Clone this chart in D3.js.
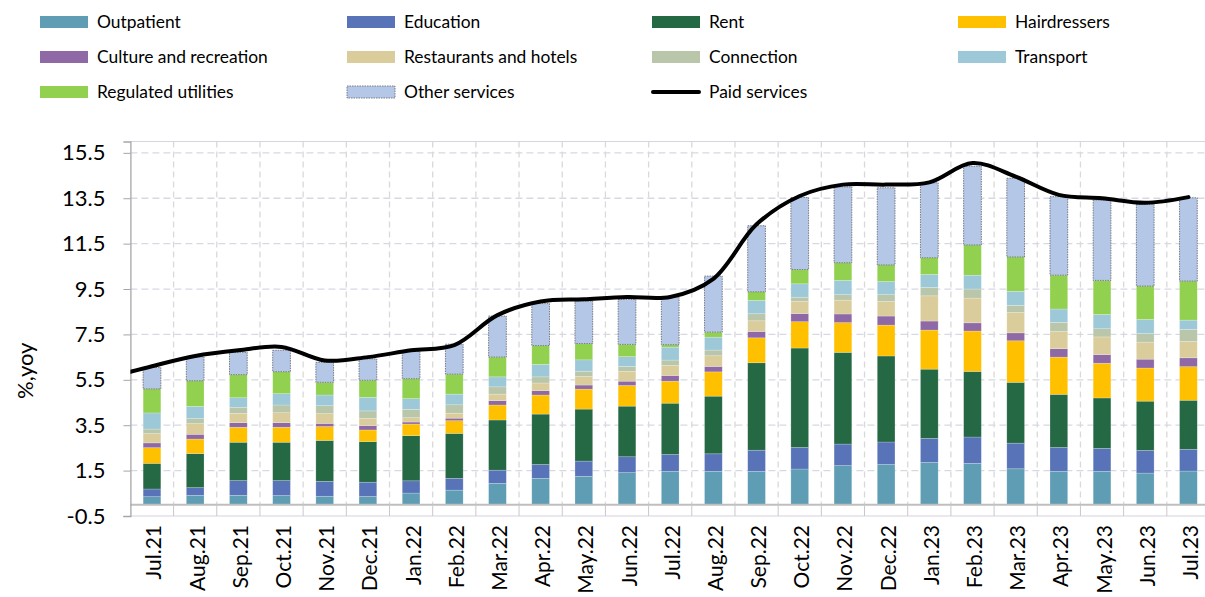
<!DOCTYPE html>
<html>
<head>
<meta charset="utf-8">
<script src="https://cdn.jsdelivr.net/npm/d3@7"></script>
<style>
  html, body { margin: 0; padding: 0; background: #fff; }
  svg { display: block; }
</style>
</head>
<body>
<div id="chart"></div>
<script>
/* ═══════════════════════════════════════════════
   Paid services inflation, contributions (D3.js)
   ═══════════════════════════════════════════════ */

const months = ['Jul.21', 'Aug.21', 'Sep.21', 'Oct.21', 'Nov.21', 'Dec.21', 'Jan.22', 'Feb.22', 'Mar.22',
  'Apr.22', 'May.22', 'Jun.22', 'Jul.22', 'Aug.22', 'Sep.22', 'Oct.22', 'Nov.22', 'Dec.22', 'Jan.23',
  'Feb.23', 'Mar.23', 'Apr.23', 'May.23', 'Jun.23', 'Jul.23'];

const outpatient   = [0.35, 0.41, 0.41, 0.40, 0.37, 0.36, 0.51, 0.64, 0.94, 1.16, 1.25, 1.41, 1.47, 1.47, 1.47, 1.57, 1.72, 1.77, 1.86, 1.82, 1.58, 1.47, 1.47, 1.39, 1.48];
const education    = [0.34, 0.34, 0.65, 0.66, 0.66, 0.63, 0.54, 0.52, 0.58, 0.61, 0.67, 0.70, 0.74, 0.77, 0.93, 0.95, 0.95, 0.99, 1.06, 1.16, 1.13, 1.05, 1.01, 1.00, 0.96];
const rent         = [1.13, 1.50, 1.69, 1.69, 1.80, 1.79, 1.99, 1.98, 2.21, 2.22, 2.29, 2.23, 2.26, 2.54, 3.85, 4.38, 4.04, 3.79, 3.05, 2.89, 2.68, 2.34, 2.22, 2.17, 2.16];
const hairdressers = [0.69, 0.64, 0.66, 0.66, 0.61, 0.51, 0.51, 0.56, 0.66, 0.84, 0.88, 0.91, 0.97, 1.07, 1.10, 1.16, 1.31, 1.36, 1.72, 1.78, 1.83, 1.64, 1.53, 1.46, 1.48];
const culture      = [0.21, 0.21, 0.20, 0.20, 0.14, 0.19, 0.09, 0.11, 0.19, 0.19, 0.18, 0.19, 0.25, 0.24, 0.28, 0.36, 0.38, 0.40, 0.40, 0.36, 0.35, 0.37, 0.38, 0.39, 0.39];
const restaurants  = [0.41, 0.47, 0.41, 0.44, 0.43, 0.32, 0.19, 0.22, 0.29, 0.34, 0.38, 0.43, 0.44, 0.47, 0.47, 0.53, 0.61, 0.64, 1.11, 1.09, 0.90, 0.76, 0.78, 0.75, 0.72];
const connection   = [0.20, 0.22, 0.27, 0.34, 0.35, 0.33, 0.37, 0.37, 0.32, 0.27, 0.23, 0.22, 0.24, 0.25, 0.31, 0.19, 0.24, 0.30, 0.37, 0.40, 0.31, 0.40, 0.36, 0.38, 0.53];
const transport    = [0.71, 0.54, 0.42, 0.50, 0.47, 0.60, 0.47, 0.47, 0.44, 0.55, 0.50, 0.43, 0.57, 0.57, 0.59, 0.59, 0.63, 0.58, 0.57, 0.61, 0.62, 0.59, 0.63, 0.62, 0.41];
const regulated    = [1.06, 1.13, 1.02, 0.97, 0.56, 0.75, 0.88, 0.88, 0.87, 0.83, 0.72, 0.54, 0.11, 0.22, 0.38, 0.63, 0.78, 0.73, 0.74, 1.33, 1.51, 1.49, 1.50, 1.47, 1.72];
const other        = [0.94, 1.05, 0.98, 0.94, 0.88, 0.94, 1.20, 1.32, 1.81, 1.85, 1.87, 1.98, 2.09, 2.47, 2.91, 3.17, 3.34, 3.40, 3.30, 3.47, 3.47, 3.46, 3.54, 3.60, 3.67];

// line starts one month earlier; Excel clips it at the plot edge
const lineMonths = ['Jun.21', ...months];
const paid = [5.6, 6.1, 6.55, 6.8, 6.95, 6.35, 6.5, 6.8, 7.03, 8.35, 8.95, 9.05, 9.15, 9.15, 9.95, 12.35,
  13.6, 14.1, 14.1, 14.2, 15.05, 14.45, 13.65, 13.5, 13.3, 13.55];

const yTicks = [-0.5, 1.5, 3.5, 5.5, 7.5, 9.5, 11.5, 13.5, 15.5];

const seriesNames = ['Outpatient', 'Education', 'Rent', 'Hairdressers', 'Culture and recreation',
  'Restaurants and hotels', 'Connection', 'Transport', 'Regulated utilities', 'Other services'];
const seriesValues = [outpatient, education, rent, hairdressers, culture, restaurants, connection,
  transport, regulated, other];
const seriesColors = ['#5E9DB3', '#5873B8', '#256844', '#FFC000', '#8E69A6', '#DBCD9B', '#B9C6AA',
  '#9DC8D8', '#92D050', '#B4C7E7'];
const lineName = 'Paid services';

const cfg = {
  w: 1205,
  h: 597,
  left: 130.4,
  right: 1210,
  top: 141.5,
  bottom: 516,
  font: "Lato, 'Open Sans', sans-serif",
  gridColor: '#D6D9E3',
  vGridColor: '#D9D9D9',
};

const svg = d3.select('#chart')
  .append('svg')
  .attr('width', cfg.w)
  .attr('height', cfg.h)
  .style('font-family', cfg.font);

// ─── Scales ───
const x = d3.scaleBand()
  .domain(months)
  .range([cfg.left, cfg.right])
  .paddingInner(0.59)
  .paddingOuter(0.295);

const step = x.step();
const xLine = d3.scalePoint()
  .domain(lineMonths)
  .range([x(months[0]) + x.bandwidth() / 2 - step, x(months[months.length - 1]) + x.bandwidth() / 2]);

const y = d3.scaleLinear()
  .domain([-0.5, 16])
  .range([cfg.bottom, cfg.top]);

// ─── Plot frame ───
svg.append('line')
  .attr('x1', cfg.left).attr('x2', cfg.right)
  .attr('y1', cfg.top).attr('y2', cfg.top)
  .attr('stroke', '#D9D3E3').attr('stroke-width', 1.2);

// ─── Grid ───
svg.append('g')
  .selectAll('line')
  .data(yTicks.filter(t => t > -0.5))
  .join('line')
  .attr('x1', cfg.left).attr('x2', cfg.right)
  .attr('y1', d => y(d)).attr('y2', d => y(d))
  .attr('stroke', cfg.gridColor)
  .attr('stroke-width', 1.3)
  .attr('stroke-dasharray', '7,4');

const boundaries = months.map((m, i) => cfg.left + i * step).slice(1);
svg.append('g')
  .selectAll('line')
  .data(boundaries)
  .join('line')
  .attr('x1', d => d).attr('x2', d => d)
  .attr('y1', cfg.top).attr('y2', y(0))
  .attr('stroke', cfg.vGridColor)
  .attr('stroke-width', 1.3)
  .attr('stroke-dasharray', '6,4');

// ─── Stacked bars ───
const rows = months.map((m, i) => {
  const r = { month: m };
  seriesNames.forEach((s, k) => { r[s] = seriesValues[k][i]; });
  return r;
});
const stacked = d3.stack().keys(seriesNames)(rows);

const layers = svg.append('g')
  .selectAll('g')
  .data(stacked)
  .join('g')
  .attr('fill', (d, i) => seriesColors[i]);

layers.selectAll('rect')
  .data(d => d.map(v => ({ v, key: d.key })))
  .join('rect')
  .attr('x', d => x(d.v.data.month))
  .attr('width', x.bandwidth())
  .attr('y', d => y(d.v[1]))
  .attr('height', d => y(d.v[0]) - y(d.v[1]))
  .attr('stroke', d => d.key === 'Other services' ? '#6F6F78' : 'rgba(255,255,255,0.35)')
  .attr('stroke-width', d => d.key === 'Other services' ? 0.9 : 0.6)
  .attr('stroke-dasharray', d => d.key === 'Other services' ? '1.5,1' : null);

// ─── Axes ───
// zero line with category ticks down to the -0.5 border
svg.append('line')
  .attr('x1', cfg.left).attr('x2', cfg.right)
  .attr('y1', y(0)).attr('y2', y(0))
  .attr('stroke', '#BFBFBF').attr('stroke-width', 2);

svg.append('line')
  .attr('x1', cfg.left).attr('x2', cfg.right)
  .attr('y1', cfg.bottom).attr('y2', cfg.bottom)
  .attr('stroke', '#D5D0E0').attr('stroke-width', 1.2);

svg.append('g')
  .selectAll('line')
  .data(boundaries)
  .join('line')
  .attr('x1', d => d).attr('x2', d => d)
  .attr('y1', y(0)).attr('y2', cfg.bottom)
  .attr('stroke', '#C8C8C8').attr('stroke-width', 1);

const yAxis = svg.append('g')
  .attr('transform', `translate(${cfg.left},0)`)
  .call(d3.axisLeft(y).tickValues(yTicks).tickSize(7).tickPadding(18).tickFormat(d => d.toFixed(1)));
yAxis.select('.domain').attr('stroke', '#A6A6A6').attr('stroke-width', 1.3);
yAxis.selectAll('.tick line').attr('stroke', '#A6A6A6');
yAxis.selectAll('.tick text')
  .attr('fill', '#000')
  .attr('font-size', '22px')
  .attr('font-family', cfg.font);

svg.append('text')
  .attr('transform', `translate(24, ${y(5.9)}) rotate(-90)`)
  .attr('text-anchor', 'middle')
  .attr('dominant-baseline', 'central')
  .attr('font-size', '22px')
  .text('%,yoy');

// month labels, rotated
svg.append('g')
  .selectAll('text')
  .data(months)
  .join('text')
  .attr('transform', d => `translate(${x(d) + x.bandwidth() / 2 + 1}, ${cfg.bottom + 9}) rotate(-90)`)
  .attr('text-anchor', 'end')
  .attr('dominant-baseline', 'central')
  .attr('font-size', '21px')
  .text(d => d);

// ─── Paid services line ───
svg.append('clipPath')
  .attr('id', 'plot-clip')
  .append('rect')
  .attr('x', cfg.left).attr('y', cfg.top)
  .attr('width', cfg.right - cfg.left).attr('height', cfg.bottom - cfg.top);

const line = d3.line()
  .x((d, i) => xLine(lineMonths[i]))
  .y(d => y(d))
  .curve(d3.curveCatmullRom.alpha(0.5));

svg.append('path')
  .attr('clip-path', 'url(#plot-clip)')
  .attr('d', line(paid))
  .attr('fill', 'none')
  .attr('stroke', '#000')
  .attr('stroke-width', 4)
  .attr('stroke-linecap', 'round');

// ─── Legend ───
const legendCols = [40, 347, 652, 958];
const legendRows = [22, 57, 92];
const legendItems = seriesNames.map((s, i) => ({ name: s, color: seriesColors[i], type: 'bar' }))
  .concat([{ name: lineName, color: '#000', type: 'line' }]);

const legend = svg.append('g')
  .selectAll('g')
  .data(legendItems)
  .join('g')
  .attr('transform', (d, i) => `translate(${legendCols[i % 4]}, ${legendRows[Math.floor(i / 4)]})`);

legend.filter(d => d.type === 'bar')
  .append('rect')
  .attr('x', 0).attr('y', -6)
  .attr('width', 48).attr('height', 12)
  .attr('fill', d => d.color)
  .attr('stroke', d => d.name === 'Other services' ? '#6F6F78' : 'none')
  .attr('stroke-width', 0.9)
  .attr('stroke-dasharray', '1.5,1');

legend.filter(d => d.type === 'line')
  .append('line')
  .attr('x1', 1).attr('x2', 47)
  .attr('y1', 0).attr('y2', 0)
  .attr('stroke', '#000')
  .attr('stroke-width', 4)
  .attr('stroke-linecap', 'round');

legend.append('text')
  .attr('x', 57)
  .attr('y', -1)
  .attr('dominant-baseline', 'central')
  .attr('font-size', '17.4px')
  .text(d => d.name);
</script>
</body>
</html>
